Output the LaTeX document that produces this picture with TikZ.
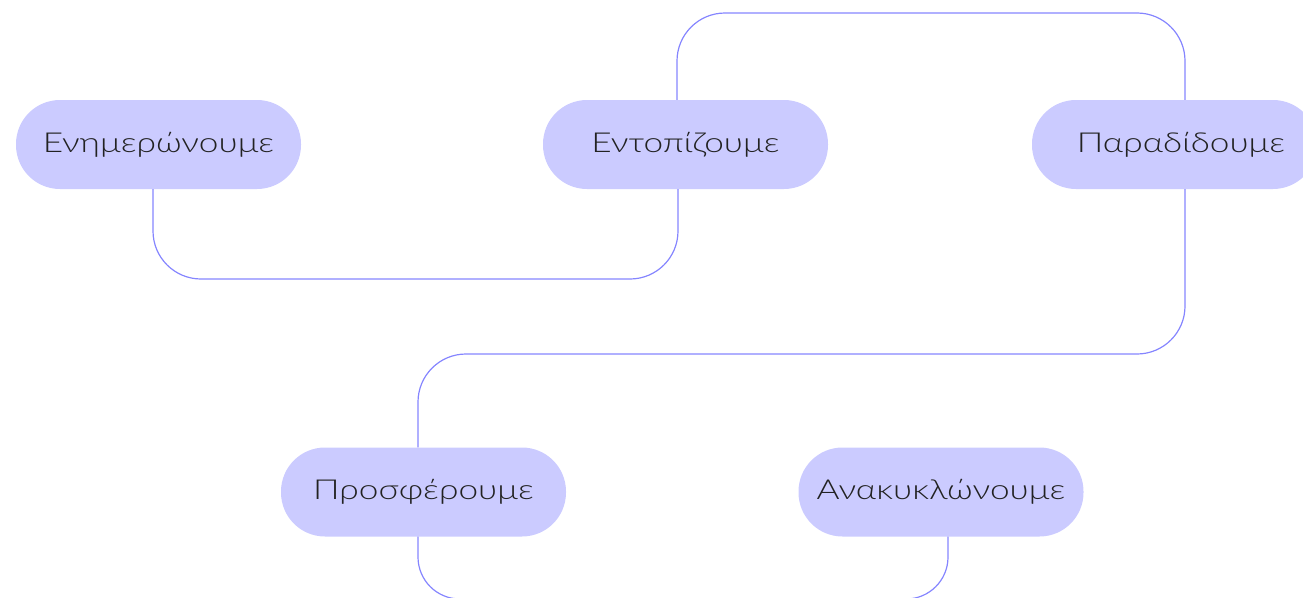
\documentclass[tikz,border=0pt]{standalone}
\usepackage{fontspec}
\setmainfont{Lato}[UprightFont={* Light}, FakeStretch=1.28]
\definecolor{pillfill}{HTML}{CBCBFF}
\definecolor{linecol}{HTML}{8585FF}
\definecolor{txt}{HTML}{222222}
\begin{document}
\begin{tikzpicture}[x=1pt,y=-1pt,
  pill/.style={rectangle, rounded corners=44pt, fill=pillfill, minimum width=285pt, minimum height=89pt, inner sep=0pt, text=txt, font=\fontsize{27.5}{30}\selectfont},
  conn/.style={draw=linecol, line width=1.2pt, rounded corners=48pt}]
\useasboundingbox (0,0) rectangle (1303,597);
\coordinate (c1a) at (153,279);
\coordinate (c1b) at (678,279);
\coordinate (c2a) at (677,13);
\coordinate (c2b) at (1185,13);
\coordinate (c3a) at (1185,354);
\coordinate (c3b) at (418,354);
\coordinate (c4a) at (418,599);
\coordinate (c4b) at (948,599);
\node[pill] (n1) at (158.5,144.5) {Ενημερώνουμε};
\node[pill] (n2) at (685.5,144.5) {Εντοπίζουμε};
\node[pill] (n3) at (1174.5,144.5) {\hspace*{13pt}Παραδίδουμε};
\node[pill] (n4) at (423.5,492) {Προσφέρουμε};
\node[pill] (n5) at (941,492) {Ανακυκλώνουμε};
\draw[conn] (n1.south -| c1a) -- (c1a) -- (c1b) -- (n2.south -| c1b);
\draw[conn] (n2.north -| c2a) -- (c2a) -- (c2b) -- (n3.north -| c2b);
\draw[conn] (n3.south -| c3a) -- (c3a) -- (c3b) -- (n4.north -| c3b);
\draw[conn, rounded corners=42pt] (n4.south -| c4a) -- (c4a) -- (c4b) -- (n5.south -| c4b);
\end{tikzpicture}
\end{document}
